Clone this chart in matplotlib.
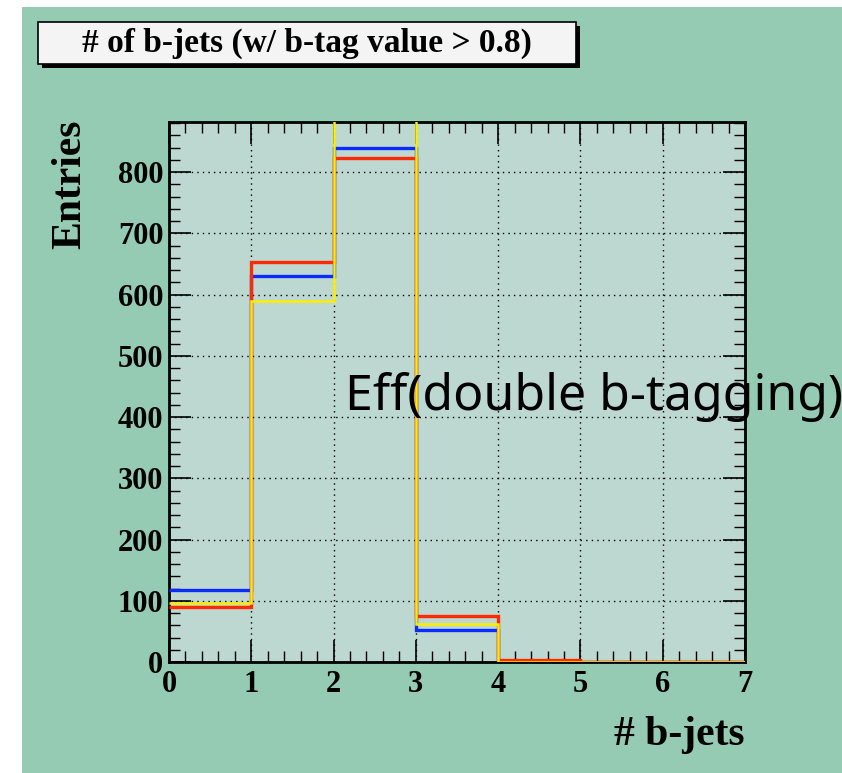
import numpy as np
import matplotlib.pyplot as plt
from matplotlib.patches import Rectangle
from matplotlib.ticker import MultipleLocator

# bin edges and counts per sample
edges = [0, 1, 2, 3, 4, 5, 6, 7]
blue_counts = [118, 631, 840, 53, 1, 0, 0]
red_counts = [90, 653, 824, 75, 3, 0, 0]
yellow_counts = [97, 589, 960, 62, 0, 0, 0]

title_text = "# of b-jets (w/ b-tag value > 0.8)"
x_title = "# b-jets"
y_title = "Entries"
note_text = "Eff(double b-tagging)"

W, H = 842, 773
fig = plt.figure(figsize=(W / 100, H / 100), dpi=100, facecolor="white")

# green pad background
fig.patches.append(Rectangle((22 / W, 0), 1 - 22 / W, 1 - 7 / H, transform=fig.transFigure,
                             facecolor="#95cbb3", edgecolor="none", zorder=-5))

ax = fig.add_axes([169 / W, 1 - 662 / H, (745 - 169) / W, (662 - 122) / H])
ax.set_zorder(1)
ax.set_facecolor("#bcd8d0")

ax.stairs(blue_counts, edges, baseline=None, color="#0a2cff", linewidth=2.4, zorder=3)
ax.stairs(red_counts, edges, baseline=None, color="#ff2a00", linewidth=2.4, zorder=4)
ax.stairs(yellow_counts, edges, baseline=None, color="#ffee00", linewidth=1.8, zorder=5)

ax.set_xlim(0, 7)
ax.set_ylim(0, 882)
ax.xaxis.set_major_locator(MultipleLocator(1))
ax.xaxis.set_minor_locator(MultipleLocator(0.2))
ax.yaxis.set_major_locator(MultipleLocator(100))
ax.yaxis.set_minor_locator(MultipleLocator(20))
ax.grid(True, which="major", color="black", linestyle=(0, (1, 3)), linewidth=1.0)
ax.set_axisbelow(True)

ax.tick_params(which="both", direction="in", top=True, right=True, color="black")
ax.tick_params(which="major", length=16, width=1.2)
ax.tick_params(which="minor", length=8, width=1.0)
ax.tick_params(axis="x", pad=6)
ax.tick_params(axis="y", pad=4)
for sp in ax.spines.values():
    sp.set_linewidth(2)
    sp.set_color("black")

for lab in ax.get_xticklabels() + ax.get_yticklabels():
    lab.set_fontfamily("Liberation Serif")
    lab.set_fontweight("bold")
    lab.set_fontsize(22)

fig.text(745 / W, 1 - 735 / H, x_title, ha="right", va="center",
         family="Liberation Serif", weight="bold", fontsize=30)
fig.text(70 / W, 1 - 120 / H, y_title, ha="center", va="top", rotation=90,
         family="Liberation Serif", weight="bold", fontsize=30)

# title box with shadow
bx0, bx1, by0, by1 = 38, 576, 22, 64
fig.patches.append(Rectangle(((bx0 + 4) / W, 1 - (by1 + 4) / H), (bx1 - bx0) / W, (by1 - by0) / H,
                             transform=fig.transFigure, facecolor="black", edgecolor="none", zorder=2))
fig.patches.append(Rectangle((bx0 / W, 1 - by1 / H), (bx1 - bx0) / W, (by1 - by0) / H,
                             transform=fig.transFigure, facecolor="#f4f4f4", edgecolor="black",
                             linewidth=1.2, zorder=3))
fig.text((bx0 + bx1) / 2 / W, 1 - (by0 + by1) / 2 / H, title_text, ha="center", va="center",
         family="Liberation Serif", weight="bold", fontsize=24, zorder=4)

fig.text(345 / W, 1 - 410 / H, note_text, ha="left", va="baseline",
         family=["Noto Sans", "DejaVu Sans"], fontsize=36, zorder=10)

fig.savefig("out.png", dpi=100, facecolor=fig.get_facecolor())
